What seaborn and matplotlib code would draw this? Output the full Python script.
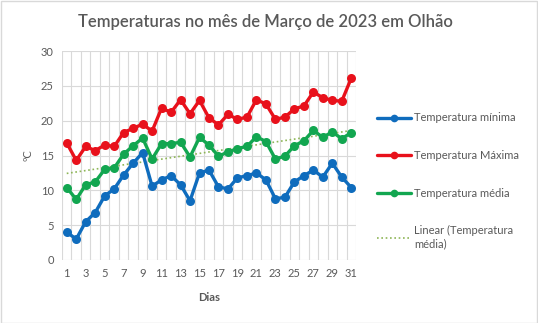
import numpy as np
import pandas as pd
import matplotlib
matplotlib.use("Agg")
import matplotlib.pyplot as plt
from matplotlib.patches import Rectangle
from matplotlib.lines import Line2D
import seaborn as sns

dias = list(range(1, 32))
t_min = [4.0, 3.0, 5.5, 6.8, 9.2, 10.2, 12.2, 13.9, 15.4, 10.6, 11.5, 12.1, 10.8, 8.5, 12.5,
         12.9, 10.5, 10.2, 11.8, 12.1, 12.5, 11.5, 8.8, 9.0, 11.2, 12.1, 12.9, 11.9, 13.9, 11.9, 10.4]
t_max = [16.8, 14.3, 16.3, 15.7, 16.5, 16.3, 18.3, 18.9, 19.5, 18.5, 21.8, 21.2, 23.0, 21.0, 22.9,
         20.4, 19.4, 20.9, 20.2, 20.5, 23.0, 22.4, 20.2, 20.5, 21.7, 22.1, 24.1, 23.3, 22.9, 22.8, 26.1]
t_med = [10.4, 8.7, 10.8, 11.2, 13.0, 13.2, 15.2, 16.4, 17.5, 14.5, 16.7, 16.7, 16.9, 14.8, 17.6,
         16.5, 14.9, 15.5, 16.0, 16.3, 17.7, 17.0, 14.5, 14.9, 16.4, 17.1, 18.6, 17.6, 18.4, 17.4, 18.3]
x_ticks = list(range(1, 32, 2))
y_ticks = [0, 5, 10, 15, 20, 25, 30]

title = "Temperaturas no mês de Março de 2023 em Olhão"
labels = ["Temperatura mínima", "Temperatura Máxima", "Temperatura média", "Linear (Temperatura\nmédia)"]

sns.set_theme(style="white")
plt.rcParams['font.family'] = ['Lato', 'DejaVu Sans']

c_min, c_max, c_med, c_lin = "#0f6cbd", "#e8111b", "#12a650", "#8db556"
txt = "#595959"

df = pd.DataFrame({"dia": dias, "min": t_min, "max": t_max, "med": t_med})
coef = np.polyfit(df["dia"], df["med"], 1)
df["lin"] = np.polyval(coef, df["dia"])

fig = plt.figure(figsize=(5.38, 3.23), dpi=100)
W, H = 538, 323
ax = fig.add_axes([62 / W, 1 - 260 / H, (356 - 62) / W, (260 - 51) / H])

fig.patches.append(Rectangle((0.5 / W, 0.5 / H), 1 - 1.5 / W, 1 - 1.5 / H, transform=fig.transFigure,
                             fill=False, edgecolor="#d9d9d9", linewidth=1))

# gridlines
for g in np.arange(0.5, 32, 1):
    ax.axvline(g, color="#d9d9d9", linewidth=0.8, zorder=0)
for g in y_ticks:
    ax.axhline(g, color="#d9d9d9", linewidth=0.8, zorder=0)

lw, ms = 2.4, 6.5
sns.lineplot(data=df, x="dia", y="lin", ax=ax, color=c_lin, linewidth=1.2, linestyle=(0, (1, 1.6)), zorder=2)
sns.lineplot(data=df, x="dia", y="min", ax=ax, color=c_min, linewidth=lw, marker="o", markersize=ms,
             markeredgewidth=0, zorder=3)
sns.lineplot(data=df, x="dia", y="max", ax=ax, color=c_max, linewidth=lw, marker="o", markersize=ms,
             markeredgewidth=0, zorder=3)
sns.lineplot(data=df, x="dia", y="med", ax=ax, color=c_med, linewidth=lw, marker="o", markersize=ms,
             markeredgewidth=0, zorder=3)

ax.set_xlim(0.5, 31.5)
ax.set_ylim(0, 30)
ax.set_xticks(x_ticks)
ax.set_xticklabels([str(v) for v in x_ticks])
ax.set_yticks(y_ticks)
ax.tick_params(axis="both", labelsize=8, colors=txt, length=0, pad=6)
for s in ax.spines.values():
    s.set_visible(False)
ax.set_xlabel("Dias", fontsize=8, color=txt, fontweight="bold", labelpad=9)
ax.set_ylabel("ºC", fontsize=8, color=txt, labelpad=5)

fig.text(265 / W, 1 - 22 / H, title, ha="center", va="center", fontsize=12, color=txt,
         fontweight="semibold")

handles = [
    Line2D([0], [0], color=c_min, linewidth=lw, marker="o", markersize=5.5, markeredgewidth=0),
    Line2D([0], [0], color=c_max, linewidth=lw, marker="o", markersize=5.5, markeredgewidth=0),
    Line2D([0], [0], color=c_med, linewidth=lw, marker="o", markersize=5.5, markeredgewidth=0),
    Line2D([0], [0], color=c_lin, linewidth=1.2, linestyle=(0, (1, 1.6))),
]
leg = fig.legend(handles, labels, loc="upper left", bbox_to_anchor=(373 / W, 1 - 108 / H),
                 frameon=False, fontsize=8, labelcolor=txt, handlelength=3.0, handletextpad=0.3,
                 labelspacing=2.4, borderaxespad=0)

fig.savefig("out.png", dpi=100)
